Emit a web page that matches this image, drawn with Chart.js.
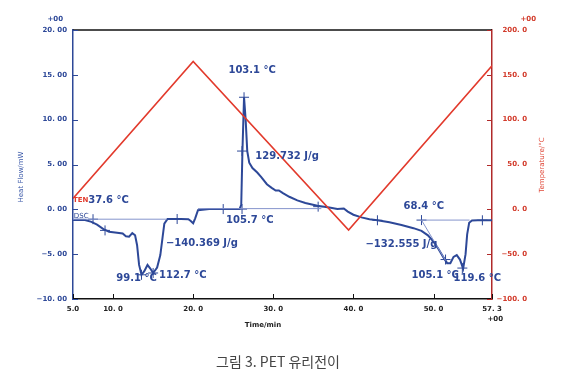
<!DOCTYPE html>
<html>
<head>
<meta charset="utf-8">
<script src="https://cdn.jsdelivr.net/npm/chart.js@4.4.1/dist/chart.umd.min.js"></script>
<style>
    html, body { margin: 0; padding: 0; background: #fff; }
    #wrap { position: relative; width: 566px; height: 380px; }
</style>
</head>
<body>
<div id="wrap"><canvas id="dscChart"></canvas></div>
<script>
// DSC heat flow (min, mW)
const dscTime = [5.0, 5.6, 6.5, 7.3, 8.0, 8.8, 9.5, 10.5, 11.2, 11.6, 12.0, 12.4, 12.75, 13.0, 13.25, 13.55,
    13.9, 14.3, 14.65, 15.0, 15.5, 15.9, 16.2, 16.4, 16.8, 17.5, 18.5, 19.4, 19.7, 20.0, 20.25, 20.6,
    22.0, 24.0, 25.8, 26.0, 26.15, 26.35, 26.55, 26.75, 27.0, 27.4, 28.0, 28.5, 29.2, 29.8, 30.3, 30.7,
    31.2, 32.0, 33.0, 34.0, 35.5, 37.0, 38.0, 38.8, 39.3, 40.0, 41.0, 42.0, 43.0, 44.5, 46.0, 47.5,
    48.5, 49.3, 50.0, 50.6, 51.2, 51.7, 52.1, 52.5, 52.9, 53.3, 53.7, 54.0, 54.2, 54.45, 54.8, 55.5, 57.3];
const dscHeat = [-1.2, -1.15, -1.2, -1.4, -1.7, -2.2, -2.5, -2.6, -2.7, -3.0, -3.05, -2.65, -2.9, -4.0, -6.2, -7.3,
    -6.9, -6.2, -6.6, -7.1, -6.5, -5.1, -3.0, -1.6, -1.08, -1.08, -1.08, -1.1, -1.3, -1.55, -1.0, -0.1,
    0.03, 0.03, 0.05, 0.5, 6.5, 12.5, 10.0, 6.5, 5.2, 4.6, 4.1, 3.6, 2.8, 2.4, 2.1, 2.1,
    1.8, 1.4, 1.0, 0.7, 0.4, 0.2, 0.05, 0.1, -0.25, -0.6, -0.9, -1.1, -1.22, -1.45, -1.75, -2.1,
    -2.4, -2.9, -3.6, -4.4, -5.3, -6.0, -6.0, -5.3, -5.1, -5.6, -6.6, -5.0, -2.8, -1.5, -1.25, -1.22, -1.22];

// programmed temperature (°C)
const tempTime = [5.0, 20.0, 39.4, 57.3];
const tempValue = [12, 165, -23, 160];

// analysis lines drawn by the instrument software
const base1Time = [5.0, 16.7];
const base1Heat = [-1.1, -1.1];
const base2Time = [20.6, 36.0];
const base2Heat = [0.08, 0.08];
const base3Time = [48.5, 54.5];
const base3Heat = [-1.2, -1.2];
const tangentTime = [48.5, 51.5];
const tangentHeat = [-1.2, -5.7];

// cross markers
const markTime = [7.5, 9.0, 13.55, 15.0, 18.0, 23.75, 26.1, 26.1, 26.35, 35.6, 43.0, 48.5, 51.5, 53.6, 56.1];
const markHeat = [-1.1, -2.35, -7.3, -7.1, -1.08, 0.03, 0.03, 6.5, 12.5, 0.3, -1.22, -1.2, -5.6, -6.55, -1.22];

// axis ticks
const xTickValues = [5.0, 10, 20, 30, 40, 50, 57.3];
const xTickLabels = ['5.0', '10. 0', '20. 0', '30. 0', '40. 0', '50. 0', '57. 3'];
const yTickValues = [-10, -5, 0, 5, 10, 15, 20];
const yTickLabels = ['\u221210. 00', '\u22125. 00', '0. 00', '5. 00', '10. 00', '15. 00', '20. 00'];
const tTickValues = [-100, -50, 0, 50, 100, 150, 200];
const tTickLabels = ['\u2212100. 0', '\u221250. 0', '0. 0', '50. 0', '100. 0', '150. 0', '200. 0'];

// peak annotations: text, time, heat flow
const noteText = ['37.6 \u00b0C', '\u2212140.369 J/g', '99.1 \u00b0C', '112.7 \u00b0C', '105.7 \u00b0C', '103.1 \u00b0C',
    '129.732 J/g', '68.4 \u00b0C', '\u2212132.555 J/g', '105.1 \u00b0C', '119.6 \u00b0C'];
const noteTime = [6.9, 16.6, 10.4, 15.75, 24.1, 24.4, 27.75, 46.25, 41.5, 47.25, 52.5];
const noteHeat = [1.03, -3.78, -7.7, -7.33, -1.22, 15.44, 5.92, 0.37, -3.86, -7.41, -7.67];

const BLUE = '#2d4898';
const THIN = '#8594cc';
const RED = '#e23a2c';

function pts(xs, ys) {
    return xs.map(function(v, i) { return { x: v, y: ys[i] }; });
}

function thinLine(xs, ys) {
    return { data: pts(xs, ys), yAxisID: 'y', borderColor: THIN, borderWidth: 1, pointRadius: 0 };
}

const frame = {
    id: 'frame',
    afterDraw: function(chart) {
        var ctx = chart.ctx;
        var a = chart.chartArea;
        var sx = chart.scales.x, sy = chart.scales.y, st = chart.scales.yTemp;
        ctx.save();
        // top border
        ctx.strokeStyle = '#111';
        ctx.lineWidth = 1.5;
        ctx.beginPath();
        ctx.moveTo(a.left, a.top);
        ctx.lineTo(a.right, a.top);
        ctx.stroke();
        // inward ticks
        ctx.lineWidth = 1;
        ctx.strokeStyle = '#111';
        xTickValues.forEach(function(v) {
            var px = Math.round(sx.getPixelForValue(v)) + 0.5;
            ctx.beginPath(); ctx.moveTo(px, a.bottom); ctx.lineTo(px, a.bottom - 5); ctx.stroke();
        });
        ctx.strokeStyle = BLUE;
        yTickValues.forEach(function(v) {
            var py = Math.round(sy.getPixelForValue(v)) + 0.5;
            ctx.beginPath(); ctx.moveTo(a.left, py); ctx.lineTo(a.left + 5, py); ctx.stroke();
        });
        ctx.strokeStyle = '#b02a2a';
        tTickValues.forEach(function(v) {
            var py = Math.round(st.getPixelForValue(v)) + 0.5;
            ctx.beginPath(); ctx.moveTo(a.right, py); ctx.lineTo(a.right - 5, py); ctx.stroke();
        });

        // right tick labels
        ctx.font = 'bold 7px "DejaVu Sans"';
        ctx.fillStyle = '#d23a2a';
        ctx.textAlign = 'right';
        ctx.textBaseline = 'middle';
        tTickValues.forEach(function(v, i) {
            ctx.fillText(tTickLabels[i], 527, st.getPixelForValue(v));
        });
        ctx.fillText('+00', 536, 19);
        ctx.fillStyle = BLUE;
        ctx.fillText('+00', 63, 19);
        ctx.fillStyle = '#222';
        ctx.fillText('+00', 503, 319);

        // axis titles
        ctx.textAlign = 'center';
        ctx.fillStyle = '#222';
        ctx.font = 'bold 7px "DejaVu Sans"';
        ctx.fillText('Time/min', 263, 325);
        ctx.font = '7px "DejaVu Sans"';
        ctx.save();
        ctx.translate(21, 177);
        ctx.rotate(-Math.PI / 2);
        ctx.fillStyle = '#3a58a8';
        ctx.fillText('Heat Flow/mW', 0, 0);
        ctx.restore();
        ctx.save();
        ctx.translate(542, 165);
        ctx.rotate(-Math.PI / 2);
        ctx.fillStyle = '#e04a3a';
        ctx.fillText('Temperature/\u00b0C', 0, 0);
        ctx.restore();

        // curve labels
        ctx.textAlign = 'left';
        ctx.font = 'bold 7px "DejaVu Sans"';
        ctx.fillStyle = RED;
        ctx.fillText('TEN', sx.getPixelForValue(5.0), sy.getPixelForValue(1.03));
        ctx.font = '7px "DejaVu Sans"';
        ctx.fillStyle = BLUE;
        ctx.fillText('DSC', sx.getPixelForValue(5.1), sy.getPixelForValue(-0.75));

        // peak annotations
        ctx.font = 'bold 10px "DejaVu Sans"';
        ctx.fillStyle = BLUE;
        noteText.forEach(function(t, i) {
            ctx.fillText(t, sx.getPixelForValue(noteTime[i]), sy.getPixelForValue(noteHeat[i]));
        });

        // caption
        ctx.textAlign = 'center';
        ctx.font = '14px "Noto Sans CJK KR"';
        ctx.fillStyle = '#444';
        ctx.fillText('\uadf8\ub9bc 3. PET \uc720\ub9ac\uc804\uc774', 278, 362);
        ctx.restore();
    }
};

const dscChart = new Chart(document.getElementById('dscChart'), {
    type: 'line',
    data: {
        datasets: [
            { data: pts(tempTime, tempValue), yAxisID: 'yTemp', borderColor: RED, borderWidth: 1.6, pointRadius: 0 },
            thinLine(base1Time, base1Heat),
            thinLine(base2Time, base2Heat),
            thinLine(base3Time, base3Heat),
            thinLine(tangentTime, tangentHeat),
            { data: pts(dscTime, dscHeat), yAxisID: 'y', borderColor: BLUE, borderWidth: 2, pointRadius: 0 },
            { data: pts(markTime, markHeat), yAxisID: 'y', showLine: false, pointStyle: 'cross',
              pointRadius: 5, borderColor: BLUE, borderWidth: 1 }
        ]
    },
    options: {
        responsive: true,
        maintainAspectRatio: false,
        animation: false,
        layout: { padding: { top: 30, left: 0, right: 0, bottom: 0 } },
        plugins: { legend: { display: false }, tooltip: { enabled: false } },
        scales: {
            x: {
                type: 'linear',
                min: 5.0,
                max: 57.3,
                afterFit: function(s) { s.height = 81; },
                afterBuildTicks: function(s) { s.ticks = xTickValues.map(function(v) { return { value: v }; }); },
                grid: { display: false, drawTicks: false },
                border: { color: '#111', width: 1.5 },
                ticks: {
                    padding: 6,
                    maxRotation: 0,
                    autoSkip: false,
                    color: '#222',
                    font: { family: 'DejaVu Sans', size: 7, weight: 'bold' },
                    callback: function(v, i) { return xTickLabels[i]; }
                }
            },
            y: {
                position: 'left',
                min: -10,
                max: 20,
                afterFit: function(s) { s.width = 73; },
                afterBuildTicks: function(s) { s.ticks = yTickValues.map(function(v) { return { value: v }; }); },
                grid: { display: false, drawTicks: false },
                border: { color: BLUE, width: 1.5 },
                ticks: {
                    padding: 6,
                    autoSkip: false,
                    color: BLUE,
                    font: { family: 'DejaVu Sans', size: 7, weight: 'bold' },
                    callback: function(v, i) { return yTickLabels[i]; }
                }
            },
            yTemp: {
                position: 'right',
                min: -100,
                max: 200,
                afterFit: function(s) { s.width = 74; },
                afterBuildTicks: function(s) { s.ticks = tTickValues.map(function(v) { return { value: v }; }); },
                grid: { display: false, drawTicks: false },
                border: { color: '#b02a2a', width: 1.5 },
                ticks: { display: false }
            }
        }
    },
    plugins: [frame]
});
</script>
</body>
</html>
